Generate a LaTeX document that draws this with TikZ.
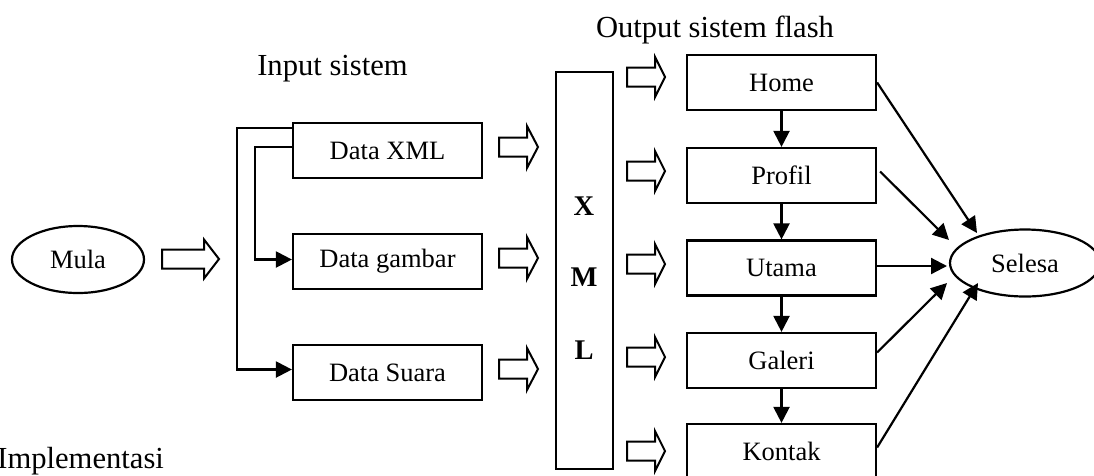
\documentclass[tikz,border=0pt]{standalone}
\usepackage{fontspec}
\setmainfont{Liberation Serif}
\usetikzlibrary{shapes.geometric,arrows.meta,calc}
\newcommand{\harrow}[6]{%
  \draw[hol] (#1,#3-#4) -- (#5,#3-#4) -- (#5,#3-#6) -- (#2,#3) -- (#5,#3+#6) -- (#5,#3+#4) -- (#1,#3+#4) -- cycle;}
\begin{document}
\begin{tikzpicture}[x=1pt,y=-1pt,line width=2.2pt,
  box/.style={draw,rectangle,minimum width=189pt,minimum height=55pt,inner sep=0pt,font=\fontsize{26.5}{30}\selectfont},
  oval/.style={draw,ellipse,inner sep=0pt,minimum height=67pt,font=\fontsize{26.5}{30}\selectfont},
  lbl/.style={font=\fontsize{30.6}{34}\selectfont,inner sep=0pt},
  big/.style={font=\fontsize{28.5}{32}\selectfont\bfseries,inner sep=0pt},
  arr/.style={-{Triangle[length=16pt,width=16pt]}},
  hol/.style={draw,line width=2pt,fill=white,line join=miter}]
\useasboundingbox (0,0) rectangle (1094,475);
\clip (0,0) rectangle (1094,475);

% labels
\node[lbl,anchor=base] (lin) at (332.5,75) {Input sistem};
\node[lbl,anchor=base] (lout) at (715,37) {Output sistem flash};
\node[lbl,anchor=base east] (limp) at (165,468) {Implementasi};

% start / end
\node[oval,minimum width=132pt] (mula) at (78,259.5) {Mula};
\node[oval,minimum width=150pt] (sel) at (1025,263) {Selesa};

% input boxes
\node[box] (dxml) at (387.5,150.5) {Data XML};
\node[box] (dgam) at (387.5,261.5) {Data gambar};
\node[box] (dsua) at (387.5,372.5) {Data Suara};

% XML column
\node[draw,rectangle,minimum width=57pt,minimum height=397pt,inner sep=0pt] (xml) at (584.5,270.5) {};
\node[big] (lx) at (584,206.5) {X};
\node[big] (lm) at (584,277) {M};
\node[big] (ll) at (584,350) {L};

% output boxes
\node[box] (home) at (781.5,82.5) {Home};
\node[box] (prof) at (781.5,175.5) {Profil};
\node[box] (utam) at (781.5,268) {Utama};
\node[box] (gale) at (781.5,360.5) {Galeri};
\node[box] (kont) at (781.5,451.5) {Kontak};

% hollow arrows
\harrow{162}{219}{259}{9.5}{204}{19.5}
\harrow{499}{538}{147}{9.5}{527}{21}
\harrow{499}{538}{258}{9.5}{527}{21}
\harrow{499}{538}{369}{9.5}{527}{21}
\harrow{627}{665}{77}{9.5}{655}{20}
\harrow{627}{665}{171}{9.5}{655}{20}
\harrow{627}{665}{264}{9.5}{655}{20}
\harrow{627}{665}{357}{9.5}{655}{20}
\harrow{627}{665}{451}{9.5}{655}{20}

% branch connectors
\draw[arr] ($(dxml.north west)+(0,6)$) -- ++(-55,0) |- ($(dsua.west)+(0,-3)$);
\draw[arr] ($(dxml.north west)+(0,25)$) -- ++(-37,0) |- ($(dgam.west)+(0,-2)$);

% down arrows
\draw[arr] (home) -- (prof);
\draw[arr] (prof) -- (utam);
\draw[arr] (utam) -- (gale);
\draw[arr] (gale) -- (kont);

% to Selesa
\draw[arr] (home.east) -- ($(sel.center)+(-48,-30)$);
\draw[arr] ($(prof.east)+(3,-4)$) -- ($(sel.center)+(-76,-23)$);
\draw[arr] ($(utam.east)+(0,-2)$) -- ($(sel.center)+(-78,3)$);
\draw[arr] ($(gale.east)+(0,-8)$) -- ($(sel.center)+(-78,20)$);
\draw[arr] ($(kont.east)+(0,-4)$) -- ($(sel.center)+(-47,20)$);
\end{tikzpicture}
\end{document}
